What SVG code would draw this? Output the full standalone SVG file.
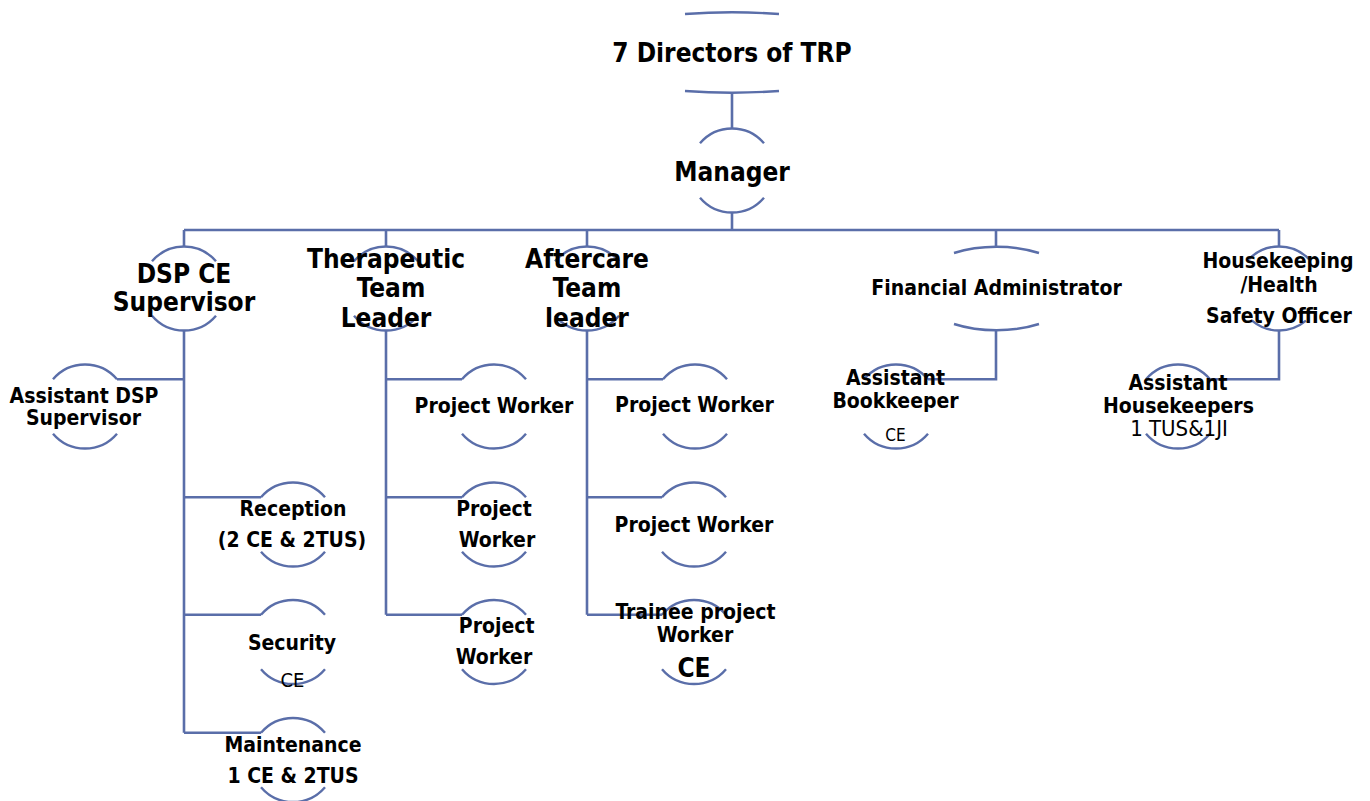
<svg xmlns="http://www.w3.org/2000/svg" width="1370" height="801" viewBox="0 0 1370 801">
<style>
.arc{fill:none;stroke:#5a6ea9;stroke-width:2.4}
.ln{fill:none;stroke:#5a6ea9;stroke-width:2.6}
text{font-family:"DejaVu Sans Condensed","DejaVu Sans",Verdana,sans-serif;font-weight:bold;fill:#000;text-anchor:middle}
.t26{font-size:26px}
.t21{font-size:21px}
.n{font-weight:normal}
</style>
<rect width="1370" height="801" fill="#fff"/>
<g id="connectors">
<path class="ln" d="M732 92V128M732 213V230M184 230H1279M184 230V247M386 230V247M587 230V247M996 230V247M1279 230V247"/>
<path class="ln" d="M184 330V732.8M184 379.3H117M184 497.3H261M184 614.8H261M184 732.8H261"/>
<path class="ln" d="M386 330V614.8M386 379.3H462M386 497.3H462M386 614.8H462"/>
<path class="ln" d="M587 330V614.8M587 379.3H663M587 497.3H662M587 614.8H662"/>
<path class="ln" d="M996 330V379.3H928"/>
<path class="ln" d="M1279 330V379.3H1210"/>
</g>
<g id="directors">
<path class="arc" d="M685 14A164 40 0 0 1 779 14M685 91A164 40 0 0 0 779 91"/>
<text class="t26" x="732" y="62">7 Directors of TRP</text>
</g>
<g id="manager">
<path class="arc" d="M700 143.3A42 42 0 0 1 764 143.3M700 197.7A42 42 0 0 0 764 197.7"/>
<text class="t26" x="732" y="180.5">Manager</text>
</g>
<g id="dsp-supervisor">
<path class="arc" d="M152 261.3A42 42 0 0 1 216 261.3M152 315.7A42 42 0 0 0 216 315.7"/>
<text class="t26" x="184" y="282.7">DSP CE</text>
<text class="t26" x="184" y="311">Supervisor</text>
</g>
<g id="therapeutic-leader">
<path class="arc" d="M354 261.3A42 42 0 0 1 418 261.3M354 315.7A42 42 0 0 0 418 315.7"/>
<text class="t26" x="386" y="268">Therapeutic</text>
<text class="t26" x="391" y="297">Team</text>
<text class="t26" x="386" y="327">Leader</text>
</g>
<g id="aftercare-leader">
<path class="arc" d="M555 261.3A42 42 0 0 1 619 261.3M555 315.7A42 42 0 0 0 619 315.7"/>
<text class="t26" x="587" y="268">Aftercare</text>
<text class="t26" x="587" y="297">Team</text>
<text class="t26" x="587" y="327">leader</text>
</g>
<g id="financial-admin">
<path class="arc" d="M954 253A81 42 0 0 1 1039 253M954 324A81 42 0 0 0 1039 324"/>
<text class="t21" x="996.5" y="295">Financial Administrator</text>
</g>
<g id="housekeeping-officer">
<path class="arc" d="M1249 259.1A42 42 0 0 1 1309 259.1M1252 320.7A42 42 0 0 0 1306 320.7"/>
<text class="t21" x="1278" y="268">Housekeeping</text>
<text class="t21" x="1279" y="291.7">/Health</text>
<text class="t21" x="1279" y="323">Safety Officer</text>
</g>
<g id="assistant-dsp">
<path class="arc" d="M53 379.3A42 42 0 0 1 117 379.3M53 433.7A42 42 0 0 0 117 433.7"/>
<text class="t21" x="84" y="402.7">Assistant DSP</text>
<text class="t21" x="83.5" y="425">Supervisor</text>
</g>
<g id="th-project-worker-1">
<path class="arc" d="M462 379.3A42 42 0 0 1 526 379.3M462 433.7A42 42 0 0 0 526 433.7"/>
<text class="t21" x="494" y="413">Project Worker</text>
</g>
<g id="af-project-worker-1">
<path class="arc" d="M663 379.3A42 42 0 0 1 727 379.3M663 433.7A42 42 0 0 0 727 433.7"/>
<text class="t21" x="694.5" y="411.7">Project Worker</text>
</g>
<g id="assistant-bookkeeper">
<path class="arc" d="M864 379.3A42 42 0 0 1 928 379.3M864 433.7A42 42 0 0 0 928 433.7"/>
<text class="t21" x="895.5" y="385">Assistant</text>
<text class="t21" x="895.5" y="408">Bookkeeper</text>
<text class="n" x="895.5" y="440.7" font-size="17">CE</text>
</g>
<g id="assistant-housekeepers">
<path class="arc" d="M1146 379.3A42 42 0 0 1 1210 379.3M1146 433.7A42 42 0 0 0 1210 433.7"/>
<text class="t21" x="1178" y="390">Assistant</text>
<text class="t21" x="1178.5" y="413">Housekeepers</text>
<text class="n" x="1179" y="436" font-size="22">1 TUS&amp;1JI</text>
</g>
<g id="reception">
<path class="arc" d="M261 497.3A42 42 0 0 1 325 497.3M261 551.7A42 42 0 0 0 325 551.7"/>
<text class="t21" x="293" y="516">Reception</text>
<text class="t21" x="292" y="547">(2 CE &amp; 2TUS)</text>
</g>
<g id="th-project-worker-2">
<path class="arc" d="M462 497.3A42 42 0 0 1 526 497.3M462 551.7A42 42 0 0 0 526 551.7"/>
<text class="t21" x="494" y="516">Project</text>
<text class="t21" x="497" y="547">Worker</text>
</g>
<g id="af-project-worker-2">
<path class="arc" d="M662 497.3A42 42 0 0 1 726 497.3M662 551.7A42 42 0 0 0 726 551.7"/>
<text class="t21" x="694" y="531.7">Project Worker</text>
</g>
<g id="security">
<path class="arc" d="M261 614.8A42 42 0 0 1 325 614.8M261 669.2A42 42 0 0 0 325 669.2"/>
<text class="t21" x="292" y="650">Security</text>
<text class="n" x="292.5" y="686.7" font-size="20">CE</text>
</g>
<g id="th-project-worker-3">
<path class="arc" d="M462 614.8A42 42 0 0 1 526 614.8M462 669.2A42 42 0 0 0 526 669.2"/>
<text class="t21" x="496.7" y="633">Project</text>
<text class="t21" x="494" y="664">Worker</text>
</g>
<g id="trainee-project-worker">
<path class="arc" d="M662 614.8A42 42 0 0 1 726 614.8M662 669.2A42 42 0 0 0 726 669.2"/>
<text class="t21" x="695.5" y="619">Trainee project</text>
<text class="t21" x="695" y="641.7">Worker</text>
<text x="694" y="677" font-size="26">CE</text>
</g>
<g id="maintenance">
<path class="arc" d="M261 732.8A42 42 0 0 1 325 732.8M261 787.2A42 42 0 0 0 325 787.2"/>
<text class="t21" x="293" y="751.7">Maintenance</text>
<text class="t21" x="293" y="783">1 CE &amp; 2TUS</text>
</g>
</svg>
